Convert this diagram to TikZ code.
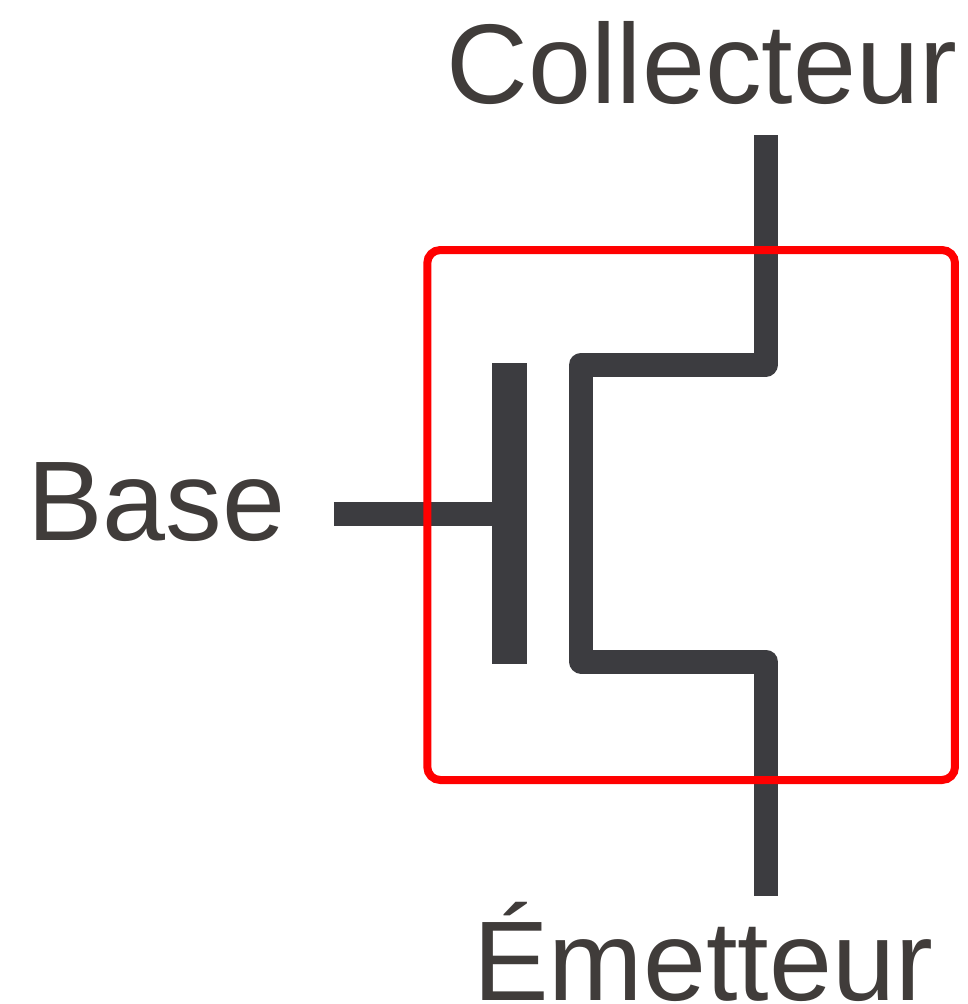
\documentclass[tikz,border=0pt]{standalone}
\usepackage{fontspec}
\setmainfont{Liberation Sans}
\definecolor{wire}{HTML}{3C3C40}
\definecolor{txt}{HTML}{403C3A}
\tikzset{lead/.style={draw=wire,line width=.24cm,line join=round},
  label/.style={text=txt,font=\fontsize{1.133cm}{1.133cm}\selectfont,inner sep=0pt,anchor=base}}
\begin{document}
\begin{tikzpicture}[x=.1cm,y=-.1cm]
\useasboundingbox (0,0) rectangle (96.8,100.4);
\coordinate (collector) at (76.58,13.5);
\coordinate (emitter) at (76.58,89.6);
\coordinate (basein) at (33.4,51.4);
\coordinate (gate) at (49.5,51.4);
\coordinate (topbend) at (76.58,36.45);
\coordinate (topcorner) at (58.13,36.45);
\coordinate (botcorner) at (58.13,66.15);
\coordinate (botbend) at (76.58,66.15);
\draw[lead] (collector) -- (topbend) -- (topcorner) -- (botcorner) -- (botbend) -- (emitter);
\draw[lead] (basein) -- (gate);
\fill[wire] (49.17,36.3) rectangle (52.67,66.4);
\draw[red,line width=.08cm,rounded corners=.13cm] (42.73,25) rectangle (95.5,78);
\node[label] (colleclabel) at (70.2,10.3) {Collecteur};
\node[label] (baselabel) at (15.65,54) {Base};
\node[label] (emitlabel) at (70.3,100) {Émetteur};
\end{tikzpicture}
\end{document}
